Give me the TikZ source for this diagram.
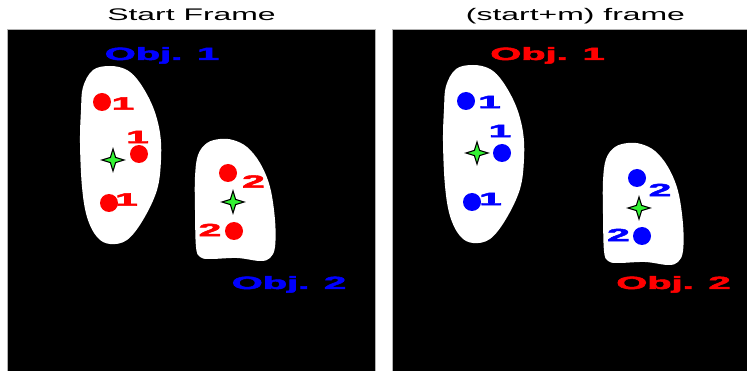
\documentclass[tikz,border=0pt]{standalone}
\usepackage{fontspec}
\setmainfont{Liberation Sans}
\newfontfamily\labfont[FakeBold=2.4]{Liberation Sans Bold}
\usepackage{graphicx}
\definecolor{starfill}{rgb}{0.2,0.95,0.2}
\newcommand{\wide}[2]{\scalebox{#1}[1]{#2}}
\tikzset{
  sparkle/.pic={
    \filldraw[fill=starfill,draw=black,line width=1.1pt,line join=miter]
      (0,-11) -- (2.6,-2.6) -- (11,0) -- (2.6,2.6) -- (0,11)
      -- (-2.6,2.6) -- (-11,0) -- (-2.6,-2.6) -- cycle;
  }
}
\begin{document}
\begin{tikzpicture}[x=1pt,y=-1pt,
  panel/.style={fill=black,draw=gray!60,line width=0.6pt},
  dotr/.style={circle,fill=red,inner sep=0pt,minimum size=18pt},
  dotb/.style={circle,fill=blue,inner sep=0pt,minimum size=18pt},
  lab/.style={inner sep=0pt,font=\fontsize{17.7}{18}\labfont},
  objlab/.style={lab,anchor=base},
  ttl/.style={inner sep=0pt,anchor=base,font=\fontsize{16.8}{18}\selectfont}]
\useasboundingbox (0,0) rectangle (747,371);
\clip (0,0) rectangle (747,371);

% titles
\node[ttl] (t1) at (191.5,20.7) {\wide{1.9}{Start Frame}};
\node[ttl] (t2) at (575.5,20.7) {\wide{1.9}{(start+m) frame}};

% black frames
\draw[panel] (7.5,29.3) rectangle (375.5,380);
\draw[panel] (392.3,29.3) rectangle (760,380);

% object regions
\def\blobA{(110,66) (93,70) (83,87) (81,110) (80,143) (82,187) (87,217)
  (97,237) (110,244) (127,240) (143,220) (157,190) (161,160) (160,133)
  (153,107) (140,83) (127,70)}
\def\blobB{(220,139) (207,143) (198,155) (195,177) (195,210) (196,247)
  (200,257) (210,259) (237,258) (260,261) (270,258) (275,247) (275,220)
  (270,187) (260,163) (247,147) (233,140)}
\fill[white] plot[smooth cycle,tension=0.6] coordinates {\blobA};
\fill[white] plot[smooth cycle,tension=0.6] coordinates {\blobB};
\begin{scope}[shift={(363,-1)}]
  \fill[white] plot[smooth cycle,tension=0.6] coordinates {\blobA};
\end{scope}
\begin{scope}[shift={(408,4)}]
  \fill[white] plot[smooth cycle,tension=0.6] coordinates {\blobB};
\end{scope}

% start frame: points and labels
\node[dotr] (a1) at (102,102) {};
\node[dotr] (a2) at (139,154) {};
\node[dotr] (a3) at (109,203) {};
\node[dotr] (a4) at (228,173) {};
\node[dotr] (a5) at (234,231) {};
\node[lab,text=red] (la1) at (123,103.5) {\wide{2.3}{1}};
\node[lab,text=red] (la2) at (137.5,137) {\wide{2.3}{1}};
\node[lab,text=red] (la3) at (126.5,199.5) {\wide{2.3}{1}};
\node[lab,text=red] (la4) at (253.5,181.5) {\wide{2.3}{2}};
\node[lab,text=red] (la5) at (210,230) {\wide{2.3}{2}};
\pic at (113,160) {sparkle};
\pic at (233,202) {sparkle};
\node[objlab,text=blue] (oa1) at (162,60) {\wide{2.25}{Obj. 1}};
\node[objlab,text=blue] (oa2) at (289,289) {\wide{2.25}{Obj. 2}};

% (start+m) frame: points and labels
\node[dotb] (b1) at (466,101) {};
\node[dotb] (b2) at (502,153) {};
\node[dotb] (b3) at (472,202) {};
\node[dotb] (b4) at (637,178) {};
\node[dotb] (b5) at (642,236) {};
\node[lab,text=blue] (lb1) at (489.5,102) {\wide{2.3}{1}};
\node[lab,text=blue] (lb2) at (500,131) {\wide{2.3}{1}};
\node[lab,text=blue] (lb3) at (490.5,199) {\wide{2.3}{1}};
\node[lab,text=blue] (lb4) at (660,190) {\wide{2.3}{2}};
\node[lab,text=blue] (lb5) at (618.5,235) {\wide{2.3}{2}};
\pic at (477,153) {sparkle};
\pic at (639,208) {sparkle};
\node[objlab,text=red] (ob1) at (547.5,60) {\wide{2.25}{Obj. 1}};
\node[objlab,text=red] (ob2) at (673.5,289) {\wide{2.25}{Obj. 2}};
\end{tikzpicture}
\end{document}
